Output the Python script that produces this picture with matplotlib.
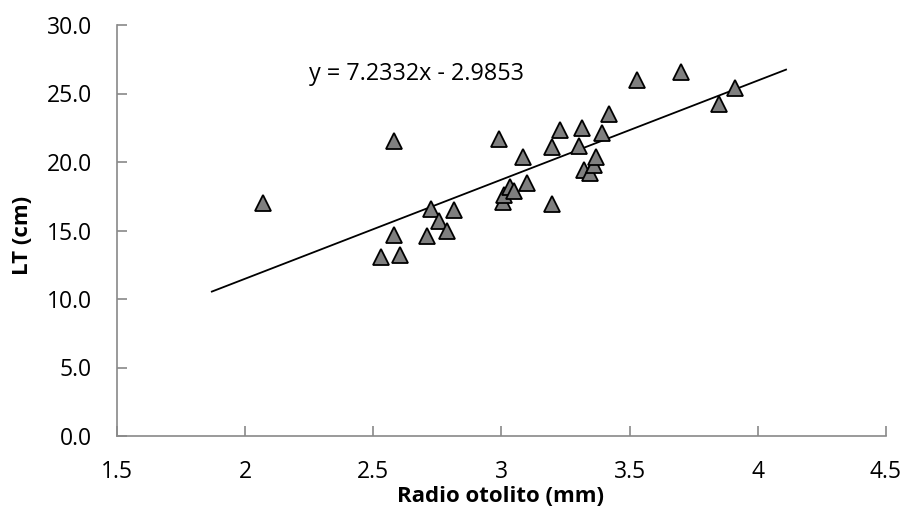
import matplotlib
matplotlib.use("Agg")
import matplotlib.pyplot as plt
import numpy as np

# Radio del otolito (mm) vs longitud total (cm)
radio = [2.07, 2.53, 2.605, 2.58, 2.58, 2.71, 2.726, 2.758, 2.789, 2.816,
         2.992, 3.004, 3.008, 3.035, 3.047, 3.082, 3.10, 3.196, 3.196, 3.227,
         3.301, 3.313, 3.32, 3.344, 3.36, 3.368, 3.391, 3.419, 3.53, 3.70,
         3.85, 3.91]
lt = [17.0, 13.1, 13.2, 14.7, 21.5, 14.6, 16.6, 15.7, 15.0, 16.5,
      21.7, 17.1, 17.6, 18.2, 17.9, 20.4, 18.5, 16.9, 21.1, 22.3,
      21.2, 22.5, 19.4, 19.2, 19.8, 20.4, 22.1, 23.5, 26.0, 26.6,
      24.2, 25.4]

# linea de tendencia (Excel)
slope = 7.2332
intercept = -2.9853
trend_x = [1.87, 4.11]

xticks = [1.5, 2, 2.5, 3, 3.5, 4, 4.5]
xticklabels = ["1.5", "2", "2.5", "3", "3.5", "4", "4.5"]
yticks = [0, 5, 10, 15, 20, 25, 30]

plt.rcParams['font.family'] = ['Open Sans', 'DejaVu Sans']

fig = plt.figure(figsize=(9.03, 5.22), dpi=100)
ax = fig.add_axes([117 / 903, 1 - 436 / 522, 769 / 903, 411 / 522])

tx = np.array(trend_x)
ax.plot(tx, slope * tx + intercept, color='black', lw=1.3, zorder=2)
ax.plot(radio, lt, linestyle='none', marker='^', markersize=12,
        markerfacecolor='#7f7f7f', markeredgecolor='black', markeredgewidth=1.3,
        zorder=3)

ax.text(2.25, 26.0, "y = 7.2332x - 2.9853", fontsize=16.8, va='baseline', ha='left')

ax.set_xlim(1.5, 4.5)
ax.set_ylim(0, 30)
ax.set_xticks(xticks)
ax.set_xticklabels(xticklabels)
ax.set_yticks(yticks)
ax.set_yticklabels([f"{v:.1f}" for v in yticks])
ax.tick_params(labelsize=16.5, direction='in', length=7, color='#898989', width=1.2)
ax.tick_params(axis='x', pad=17)
ax.tick_params(axis='y', pad=18)

for s in ['top', 'right']:
    ax.spines[s].set_visible(False)
for s in ['left', 'bottom']:
    ax.spines[s].set_color('#898989')
    ax.spines[s].set_linewidth(1.2)

ax.set_xlabel("Radio otolito (mm)", fontsize=16, fontweight='bold')
ax.set_ylabel("LT (cm)", fontsize=16, fontweight='bold')
ax.xaxis.set_label_coords(0.4993, -0.122)
ax.yaxis.set_label_coords(-0.109, 0.489)

fig.savefig("out.png", dpi=100)
